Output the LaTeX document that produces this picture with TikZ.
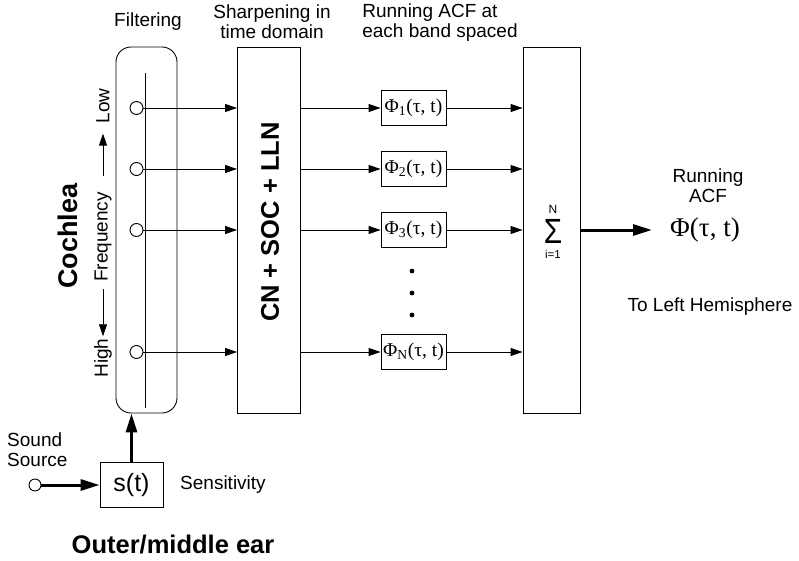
\documentclass[tikz,border=0pt]{standalone}
\usepackage{fontspec}
\setmainfont{Liberation Sans}
\newfontfamily\greekfont{Liberation Serif}
\usetikzlibrary{arrows.meta,positioning,calc}
\tikzset{
  box/.style={draw,line width=0.9pt,inner sep=0pt},
  acfbox/.style={box,minimum width=65pt,minimum height=35pt,
    font=\greekfont\fontsize{19.5}{20}\selectfont},
  hair/.style={draw,circle,line width=0.9pt,minimum size=13pt,inner sep=0pt},
  lbl/.style={font=\fontsize{19}{20}\selectfont,inner sep=0pt,align=center},
  biglbl/.style={font=\fontsize{25.5}{27}\selectfont\bfseries,inner sep=0pt},
  flow/.style={-{Triangle[length=12pt,width=8pt]},line width=0.9pt},
  bigflow/.style={-{Triangle[length=19pt,width=11pt]},line width=3pt}
}
\begin{document}
\begin{tikzpicture}[x=1pt,y=-1pt]
  \useasboundingbox (0,0) rectangle (799,561);
  % Column headers
  \node[lbl] (filt) at (148,22) {Filtering};
  \node[lbl] (sharp) at (272,22) {Sharpening in\\time domain};
  \node[lbl,align=left] (runhead) at (440,23) {Running ACF at\\each band spaced};
  % Cochlea
  \node[box,rounded corners=15pt,minimum width=61pt,minimum height=366pt] (coch) at (146.5,230) {};
  \draw[line width=0.9pt] (145,73) -- (145,408);
  \node[biglbl,font=\fontsize{27}{28}\selectfont\bfseries,rotate=90] (cochlbl) at (68,236) {Cochlea};
  \node[lbl,rotate=90] (freq) at (103,237) {Frequency};
  \node[lbl,rotate=90] (low) at (103,106) {Low};
  \node[lbl,rotate=90] (high) at (103,358) {High};
  \draw[flow,shorten <=16pt,shorten >=10pt] (freq.east) -- (low.west);
  \draw[flow,shorten <=7pt,shorten >=2pt] (freq.west) -- (high.east);
  % Sharpening
  \node[box,minimum width=63pt,minimum height=366pt] (cn) at (269,230) {};
  \node[biglbl,rotate=90] (cnlbl) at (270,222) {CN + SOC + LLN};
  % Summation
  \node[box,minimum width=57pt,minimum height=366pt] (sum) at (551.5,230) {};
  \node[font=\fontsize{35}{36}\selectfont,inner sep=0pt] (sigma) at (553,231) {\scalebox{0.85}[1]{Σ}};
  \node[font=\fontsize{12}{12}\selectfont,inner sep=0pt] (supN) at (553,209) {N};
  \node[font=\fontsize{11.5}{12}\selectfont,inner sep=0pt] (subi) at (553,254) {i=1};
  % Bands
  \foreach \i/\y/\s in {1/108/1,2/169/2,3/230/3,4/352/N} {
    \node[hair] (h\i) at (136.5,\y) {};
    \node[acfbox] (acf\i) at (413.5,\y) {Φ\textsubscript{\s}(τ, t)};
    \draw[flow] (h\i.east) -- (h\i -| cn.west);
    \draw[flow] (cn.east |- acf\i) -- (acf\i.west);
    \draw[flow] (acf\i.east) -- (acf\i -| sum.west);
  }
  \foreach \y in {271,293,315} \fill (412,\y) circle (2.4pt);
  % Output
  \node[font=\greekfont\fontsize{27}{28}\selectfont,inner sep=0pt] (phiout) at (705,230) {Φ(τ, t)};
  \draw[bigflow] (sum.east) -- ([xshift=-18pt]phiout.west);
  \node[lbl] (runacf) at (708,186) {Running\\ACF};
  \node[lbl] (toleft) at (710,307) {To Left Hemisphere};
  % Outer/middle ear
  \node[box,minimum width=63pt,minimum height=45pt,font=\fontsize{25}{26}\selectfont] (st) at (131.5,485) {s(t)};
  \node[hair,minimum size=12pt] (src) at (35,485) {};
  \draw[bigflow] (src) -- (st);
  \draw[bigflow] (st) -- (st |- coch.south);
  \node[lbl,align=left,anchor=west] (srclbl) at (7,450) {Sound\\Source};
  \node[lbl,anchor=west] (sens) at (180,485) {Sensitivity};
  \node[biglbl] (outer) at (173,545) {Outer/middle ear};
\end{tikzpicture}
\end{document}
